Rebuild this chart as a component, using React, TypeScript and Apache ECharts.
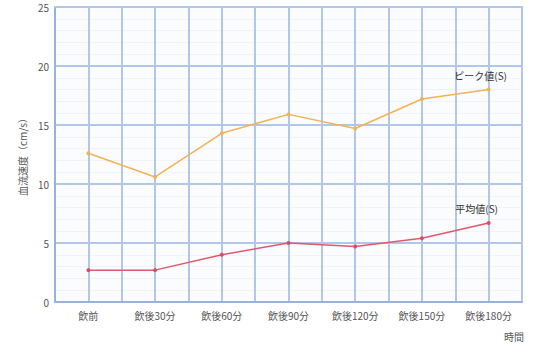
import React, { useEffect, useRef } from "react";
import * as echarts from "echarts";

const categories = ["飲前", "飲後30分", "飲後60分", "飲後90分", "飲後120分", "飲後150分", "飲後180分"];
const peakValues = [12.6, 10.6, 14.3, 15.9, 14.7, 17.2, 18.0];
const meanValues = [2.7, 2.7, 4.0, 5.0, 4.7, 5.4, 6.7];
const peakName = "ピーク値(S)";
const meanName = "平均値(S)";
const yTicks = [0, 5, 10, 15, 20, 25];

const gridColor = "#b2c6ea";
const textColor = "#555";
const font = "'Noto Sans CJK JP', 'Noto Sans', sans-serif";

export default function App() {
  const ref = useRef<HTMLDivElement>(null);
  useEffect(() => {
    if (!ref.current) return;
    const chart = echarts.init(ref.current, null, { renderer: "svg" });
    chart.setOption({
      animation: false,
      backgroundColor: "#ffffff",
      grid: { left: 55, right: 18, top: 7, bottom: 54, backgroundColor: "#fbfcfe", show: true, borderWidth: 0 },
      xAxis: [
        {
          type: "category",
          data: categories,
          boundaryGap: true,
          axisLine: { show: true, lineStyle: { color: "#98b2de", width: 2 } },
          axisTick: { show: false },
          splitLine: { show: false },
          axisLabel: { color: textColor, fontSize: 10, fontFamily: font, margin: 8, interval: 0 },
        },
        {
          type: "value",
          min: 0,
          max: 7,
          interval: 0.5,
          position: "top",
          axisLine: { show: true, lineStyle: { color: gridColor, width: 2 } },
          axisTick: { show: false },
          axisLabel: { show: false },
          splitLine: { show: true, lineStyle: { color: gridColor, width: 2 } },
        },
      ],
      yAxis: {
        type: "value",
        min: yTicks[0],
        max: yTicks[yTicks.length - 1],
        interval: 5,
        name: "血流速度（cm/s）",
        nameLocation: "middle",
        nameGap: 27,
        nameRotate: 90,
        nameTextStyle: { color: textColor, fontSize: 10, fontFamily: font },
        axisLine: { show: true, lineStyle: { color: "#98b2de", width: 2 } },
        axisTick: { show: false },
        axisLabel: { color: textColor, fontSize: 10, fontFamily: font, margin: 6 },
        splitLine: { show: true, lineStyle: { color: gridColor, width: 2 } },
        minorTick: { show: false, splitNumber: 5 },
        minorSplitLine: { show: true, lineStyle: { color: "#f0f3fa", width: 1 } },
      },
      series: [
        {
          name: peakName,
          type: "line",
          xAxisIndex: 0,
          data: peakValues.map((v, i) =>
            i === peakValues.length - 1
              ? {
                  value: v,
                  label: {
                    show: true,
                    position: "top",
                    offset: [-8, -2],
                    formatter: peakName,
                    color: "#333",
                    fontSize: 10,
                    fontFamily: font,
                  },
                }
              : v
          ),
          symbol: "circle",
          symbolSize: 4,
          itemStyle: { color: "#f3b254" },
          lineStyle: { color: "#f3b254", width: 1.5 },
        },
        {
          name: meanName,
          type: "line",
          xAxisIndex: 0,
          data: meanValues.map((v, i) =>
            i === meanValues.length - 1
              ? {
                  value: v,
                  label: {
                    show: true,
                    position: "top",
                    offset: [-12, -2],
                    formatter: meanName,
                    color: "#333",
                    fontSize: 10,
                    fontFamily: font,
                  },
                }
              : v
          ),
          symbol: "circle",
          symbolSize: 4,
          itemStyle: { color: "#dd4a62" },
          lineStyle: { color: "#e0586e", width: 1.5 },
        },
      ],
      graphic: [
        {
          type: "text",
          left: 504,
          top: 331,
          style: { text: "時間", fill: textColor, fontSize: 10, fontFamily: font },
        },
      ],
    });
    return () => chart.dispose();
  }, []);
  return <div ref={ref} style={{ position: "fixed", left: 0, top: 0, width: 540, height: 356 }} />;
}
